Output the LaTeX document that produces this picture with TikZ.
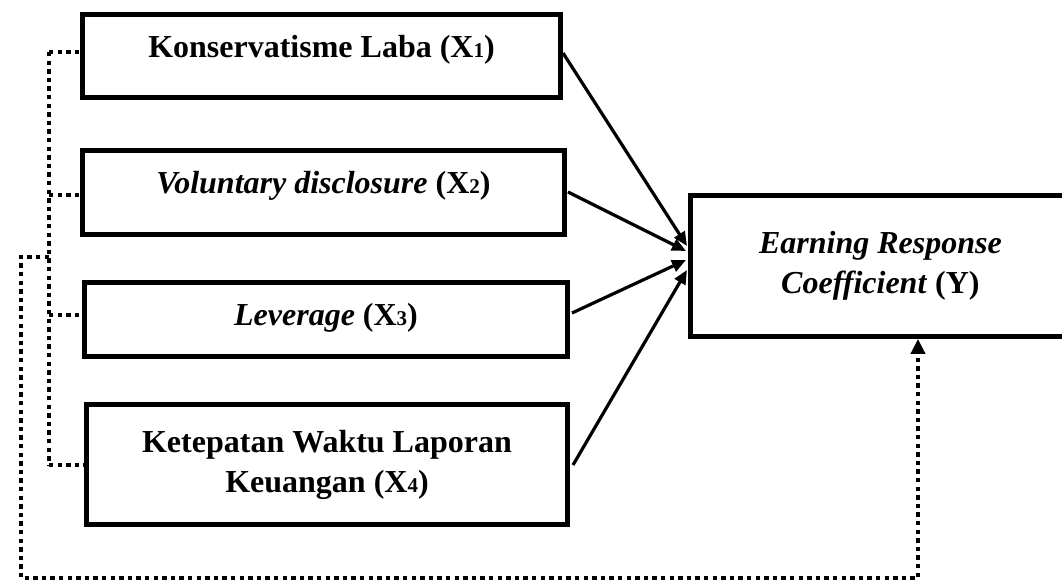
\documentclass[tikz,border=0pt]{standalone}
\usepackage{fontspec}
\setmainfont{Liberation Serif}
\usepackage{tikz}
\usetikzlibrary{arrows.meta}

\newcommand{\xsub}[1]{{\fontsize{10.5}{12}\selectfont #1}}

\begin{document}
\begin{tikzpicture}[x=0.5pt,y=-0.5pt]
	\useasboundingbox (0,0) rectangle (1062,581);
	\begin{scope}
		[
			styleBox/.style={
				draw, line width=2.4pt, inner sep=0pt,
				align=center, font=\fontsize{16}{20}\selectfont\bfseries
				},
			styleLine/.style={text height=11pt, text depth=#1},
		]
		\node(kl)[styleBox, minimum width=239pt, minimum height=41.5pt, styleLine=9.4pt] at (321.5,56) {Konservatisme Laba (X\xsub{1})};
		\node(vd)[styleBox, minimum width=241pt, minimum height=42pt, styleLine=10.4pt] at (323.5,192.5) {\textit{Voluntary disclosure} (X\xsub{2})};
		\node(lev)[styleBox, minimum width=241.5pt, minimum height=37pt, styleLine=5.4pt] at (326,319.5) {\textit{Leverage} (X\xsub{3})};
		\node(kwl)[styleBox, minimum width=240.5pt, minimum height=60pt] at (327,464.5) {Ketepatan Waktu Laporan\\Keuangan (X\xsub{4})};

		\node(erc)[styleBox, minimum width=190pt, minimum height=70.5pt] at (880.4,266) {\textit{Earning Response}\\\textit{Coefficient} (Y)};

		\coordinate(s1) at (563,53);
		\coordinate(s2) at (568,192);
		\coordinate(s3) at (572,313);
		\coordinate(s4) at (573,465);
		\coordinate(in1) at (687,246);
		\coordinate(in2) at (686,251);
		\coordinate(in3) at (686,260);
		\coordinate(in4) at (687,270);

		\coordinate(t1) at (49,52);
		\coordinate(t2) at (49,195);
		\coordinate(t3) at (49,315);
		\coordinate(t4) at (49,465);
		\coordinate(u1) at (49,257);
		\coordinate(u2) at (21,257);
		\coordinate(u3) at (21,578);
		\coordinate(u4) at (918,578);
	\end{scope}

	\begin{scope}
		[ cause/.style = {-{Triangle[length=7pt,width=6pt]}, line width=1.6pt},
			link/.style = {line width=2.3pt, dash pattern=on 2.2pt off 2.1pt}]
		\path
		(s1) edge[cause]		node{}(in1)
		(s2) edge[cause]		node{}(in2)
		(s3) edge[cause]		node{}(in3)
		(s4) edge[cause]		node{}(in4);

		\draw[link] (t1) -- (t4);
		\draw[link] (t1) -- (t1 -| kl.west);
		\draw[link] (t2) -- (t2 -| vd.west);
		\draw[link] (t3) -- (t3 -| lev.west);
		\draw[link] (t4) -- (t4 -| kwl.west);
		\draw[link, -{Triangle[length=7.5pt,width=7pt]}] (u1) -- (u2) -- (u3) -- (u4) -- (u4 |- erc.south);
	\end{scope}
\end{tikzpicture}
\end{document}
